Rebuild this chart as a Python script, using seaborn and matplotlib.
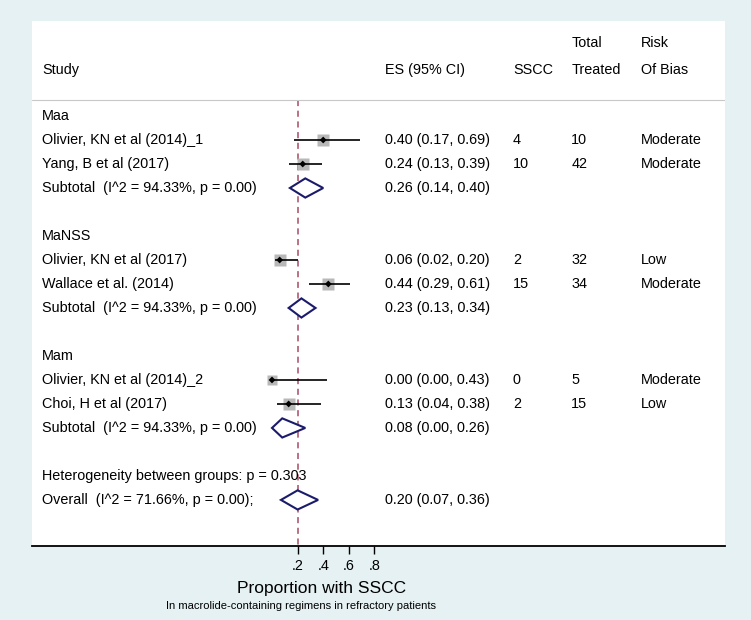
import numpy as np
import pandas as pd
import matplotlib.pyplot as plt
import matplotlib.transforms as mtransforms
from matplotlib.patches import Polygon
import seaborn as sns

# study rows
groups = ["Maa", "MaNSS", "Mam"]
studies = ["Olivier, KN et al (2014)_1", "Yang, B et al (2017)",
           "Olivier, KN et al (2017)", "Wallace et al. (2014)",
           "Olivier, KN et al (2014)_2", "Choi, H et al (2017)"]
study_group = ["Maa", "Maa", "MaNSS", "MaNSS", "Mam", "Mam"]
es = [0.40, 0.24, 0.06, 0.44, 0.00, 0.13]
lo = [0.17, 0.13, 0.02, 0.29, 0.00, 0.04]
hi = [0.69, 0.39, 0.20, 0.61, 0.43, 0.38]
sscc = [4, 10, 2, 15, 0, 2]
treated = [10, 42, 32, 34, 5, 15]
bias = ["Moderate", "Moderate", "Low", "Moderate", "Moderate", "Low"]
weight = [16, 17, 17, 20, 12, 16]

sub_es = [0.26, 0.23, 0.08]
sub_lo = [0.14, 0.13, 0.00]
sub_hi = [0.40, 0.34, 0.26]
sub_label = "Subtotal  (I^2 = 94.33%, p = 0.00)"

overall_es, overall_lo, overall_hi = 0.20, 0.07, 0.36
overall_label = "Overall  (I^2 = 71.66%, p = 0.00);"
het_label = "Heterogeneity between groups: p = 0.303"

xticks = [0.2, 0.4, 0.6, 0.8]
xtick_labels = [".2", ".4", ".6", ".8"]

sns.set_theme(style="white")
plt.rcParams["font.family"] = ["Liberation Sans", "DejaVu Sans"]
plt.rcParams["text.color"] = "black"
plt.rcParams["xtick.color"] = "black"

W, H = 751, 620
fig = plt.figure(figsize=(W / 100, H / 100), dpi=100, facecolor="#e5f1f2")
ax = fig.add_axes([32 / W, (H - 546) / H, (725 - 32) / W, (546 - 21) / H])
ax.set_facecolor("white")
ax.set_xlim((32 - 272) / 128, (725 - 272) / 128)
ax.set_ylim(17.92, -3.96)

# build row layout
rows = []
r = 0
for gi, g in enumerate(groups):
    rows.append(("group", g, r, None)); r += 1
    for i, sg in enumerate(study_group):
        if sg == g:
            rows.append(("study", studies[i], r, i)); r += 1
    rows.append(("sub", sub_label, r, gi)); r += 2
het_row = r
overall_row = r + 1

df = pd.DataFrame([(row[2], row[3]) for row in rows if row[0] == "study"], columns=["row", "idx"])
df["es"] = [es[i] for i in df["idx"]]
df["lo"] = [lo[i] for i in df["idx"]]
df["hi"] = [hi[i] for i in df["idx"]]
df["w"] = [weight[i] for i in df["idx"]]

tr = mtransforms.blended_transform_factory(ax.transAxes, ax.transData)
fs = 10.4
cols = {"study": 0.0144, "es": 0.509, "sscc": 0.694, "tot": 0.778, "risk": 0.879}

# header
ax.text(cols["study"], -1.92, "Study", transform=tr, fontsize=fs, va="center")
ax.text(cols["es"], -1.92, "ES (95% CI)", transform=tr, fontsize=fs, va="center")
ax.text(cols["sscc"], -1.92, "SSCC", transform=tr, fontsize=fs, va="center")
ax.text(cols["tot"], -3.04, "Total", transform=tr, fontsize=fs, va="center")
ax.text(cols["tot"], -1.92, "Treated", transform=tr, fontsize=fs, va="center")
ax.text(cols["risk"], -3.04, "Risk", transform=tr, fontsize=fs, va="center")
ax.text(cols["risk"], -1.92, "Of Bias", transform=tr, fontsize=fs, va="center")
ax.axhline(-0.67, color="#c8c8c8", lw=0.8)

# reference line at overall estimate
ax.plot([overall_es, overall_es], [-0.67, 17.92], color="#a84c64", lw=1.1,
        ls=(0, (4, 3)), zorder=1)

# CI lines and markers
for _, d in df.iterrows():
    ax.plot(d["es"], d["row"], marker="s", ms=2.0 * np.sqrt(d["w"]),
            color="#b8b8b8", mec="none", zorder=2)
ax.hlines(df["row"], df["lo"], df["hi"], color="black", lw=1.2, zorder=3)
sns.scatterplot(data=df, x="es", y="row", marker="D", s=12, color="black",
                edgecolor="none", ax=ax, zorder=4, legend=False)

def diamond(c, l, h, y):
    p = Polygon([(l, y), (c, y - 0.4), (h, y), (c, y + 0.4)], closed=True,
                fc="white", ec="#1b1b6b", lw=1.5, zorder=3)
    ax.add_patch(p)

def ci_text(c, l, h):
    return f"{c:.2f} ({l:.2f}, {h:.2f})"

for kind, label, row, i in rows:
    ax.text(cols["study"], row, label, transform=tr, fontsize=fs, va="center")
    if kind == "study":
        ax.text(cols["es"], row, ci_text(es[i], lo[i], hi[i]), transform=tr, fontsize=fs, va="center")
        ax.text(cols["sscc"], row, str(sscc[i]), transform=tr, fontsize=fs, va="center")
        ax.text(cols["tot"], row, str(treated[i]), transform=tr, fontsize=fs, va="center")
        ax.text(cols["risk"], row, bias[i], transform=tr, fontsize=fs, va="center")
    elif kind == "sub":
        diamond(sub_es[i], sub_lo[i], sub_hi[i], row)
        ax.text(cols["es"], row, ci_text(sub_es[i], sub_lo[i], sub_hi[i]), transform=tr, fontsize=fs, va="center")

ax.text(cols["study"], het_row, het_label, transform=tr, fontsize=fs, va="center")
ax.text(cols["study"], overall_row, overall_label, transform=tr, fontsize=fs, va="center")
diamond(overall_es, overall_lo, overall_hi, overall_row)
ax.text(cols["es"], overall_row, ci_text(overall_es, overall_lo, overall_hi), transform=tr, fontsize=fs, va="center")

# axes styling
for s in ["top", "left", "right"]:
    ax.spines[s].set_visible(False)
ax.spines["bottom"].set_color("black")
ax.spines["bottom"].set_linewidth(1.3)
ax.set_yticks([])
ax.set_xticks(xticks)
ax.set_xticklabels(xtick_labels, fontsize=fs)
ax.tick_params(axis="x", direction="out", length=6, width=1, color="black", pad=3, bottom=True)
ax.set_ylabel("")
ax.set_xlabel("")

fig.text(322 / W, 1 - 588 / H, "Proportion with SSCC", fontsize=12.5, ha="center", va="center")
fig.text(301 / W, 1 - 606 / H, "In macrolide-containing regimens in refractory patients",
         fontsize=8, ha="center", va="center")

fig.savefig("out.png", dpi=100, facecolor=fig.get_facecolor())
